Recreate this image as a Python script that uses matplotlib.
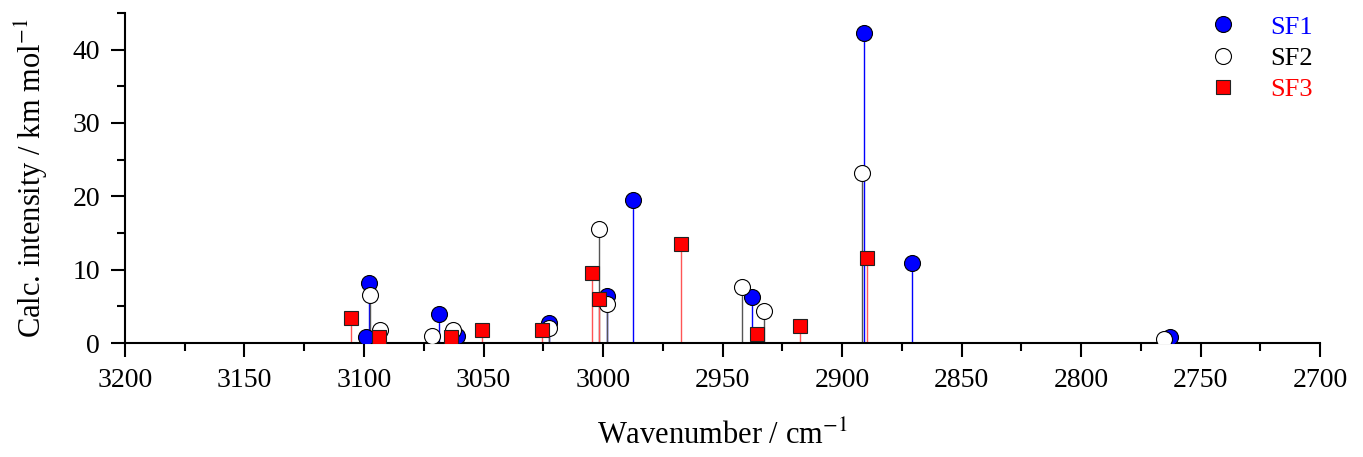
import matplotlib.pyplot as plt
from matplotlib.ticker import MultipleLocator

plt.rcParams['font.family'] = ['Liberation Serif', 'DejaVu Serif']
plt.rcParams['mathtext.fontset'] = 'stix'

# SF1 (blue circles)
sf1_wn = [3099, 3097.8, 3068.5, 3061, 3022.5, 2998.5, 2987.6, 2937.7, 2890.7, 2870.7, 2762.8]
sf1_int = [0.8, 8.2, 4.0, 1.0, 2.7, 6.4, 19.5, 6.3, 42.2, 10.9, 0.8]

# SF2 (open circles)
sf2_wn = [3097.5, 3093.3, 3071.6, 3062.6, 3022.5, 3001.5, 2998.5, 2941.7, 2932.5, 2891.8, 2765.3]
sf2_int = [6.6, 1.8, 1.0, 1.8, 2.1, 15.6, 5.4, 7.6, 4.4, 23.2, 0.6]

# SF3 (red squares)
sf3_wn = [3105.4, 3093.6, 3063.6, 3050.5, 3025.5, 3004.6, 3001.5, 2967.4, 2935.6, 2917.6, 2889.7]
sf3_int = [3.4, 0.8, 0.9, 1.8, 1.8, 9.6, 6.0, 13.5, 1.2, 2.3, 11.6]

fig = plt.figure(figsize=(13.63, 4.57), dpi=100)
ax = fig.add_axes([0.0917, 0.249, 0.8768, 0.723])

ax.vlines(sf1_wn, 0, sf1_int, color='blue', lw=1, zorder=1)
ax.vlines(sf2_wn, 0, sf2_int, color='#555555', lw=1, zorder=1)
ax.vlines(sf3_wn, 0, sf3_int, color='#ff5555', lw=1, zorder=1)

ax.plot(sf1_wn, sf1_int, 'o', ms=11.5, mfc='blue', mec='black', mew=0.8, ls='none', label='SF1', zorder=3)
ax.plot(sf2_wn, sf2_int, 'o', ms=11.5, mfc='white', mec='black', mew=0.8, ls='none', label='SF2', zorder=4)
ax.plot(sf3_wn, sf3_int, 's', ms=9.5, mfc='red', mec='#222222', mew=0.8, ls='none', label='SF3', zorder=5)

ax.set_xlim(3200, 2700)
ax.set_ylim(0, 45)
ax.xaxis.set_major_locator(MultipleLocator(50))
ax.xaxis.set_minor_locator(MultipleLocator(25))
ax.yaxis.set_major_locator(MultipleLocator(10))
ax.yaxis.set_minor_locator(MultipleLocator(5))

for s in ['top', 'right']:
    ax.spines[s].set_visible(False)
for s in ['left', 'bottom']:
    ax.spines[s].set_linewidth(1.5)

ax.tick_params(which='major', direction='out', length=10, width=1.5, labelsize=20, pad=8)
ax.tick_params(which='minor', direction='out', length=5.5, width=1.5)

ax.set_xlabel('Wavenumber / cm$^{-1}$', fontsize=22, labelpad=20)
ax.set_ylabel('Calc. intensity / km mol$^{-1}$', fontsize=22, labelpad=16)

leg = ax.legend(loc='upper right', bbox_to_anchor=(1.014, 1.065), frameon=False, fontsize=19,
                handletextpad=0.8, labelspacing=0.3)
for txt, c in zip(leg.get_texts(), ['blue', 'black', 'red']):
    txt.set_color(c)

plt.savefig('out.png', dpi=100)
